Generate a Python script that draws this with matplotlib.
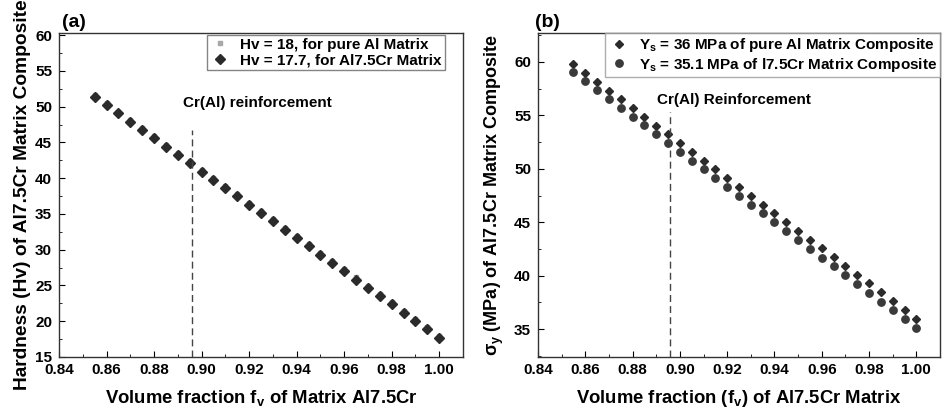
import matplotlib
matplotlib.use("Agg")
import matplotlib.pyplot as plt
from matplotlib.ticker import MultipleLocator, FormatStrFormatter

plt.rcParams['font.family'] = ['Liberation Sans', 'DejaVu Sans']
plt.rcParams['font.weight'] = 'bold'
plt.rcParams['axes.labelweight'] = 'bold'
plt.rcParams['mathtext.fontset'] = 'custom'
plt.rcParams['mathtext.rm'] = 'Liberation Sans:bold'
plt.rcParams['mathtext.it'] = 'Liberation Sans:bold'
plt.rcParams['mathtext.bf'] = 'Liberation Sans:bold'
plt.rcParams['mathtext.default'] = 'rm'

# volume fraction of matrix
fv = [0.855, 0.860, 0.865, 0.870, 0.875, 0.880, 0.885, 0.890, 0.895, 0.900,
      0.905, 0.910, 0.915, 0.920, 0.925, 0.930, 0.935, 0.940, 0.945, 0.950,
      0.955, 0.960, 0.965, 0.970, 0.975, 0.980, 0.985, 0.990, 0.995, 1.000]

# (a) hardness
hv_pure_al = [51.64, 50.48, 49.32, 48.16, 47.00, 45.84, 44.68, 43.52, 42.36, 41.20,
              40.04, 38.88, 37.72, 36.56, 35.40, 34.24, 33.08, 31.92, 30.76, 29.60,
              28.44, 27.28, 26.12, 24.96, 23.80, 22.64, 21.48, 20.32, 19.16, 18.00]
hv_al75cr = [51.38, 50.22, 49.06, 47.90, 46.74, 45.58, 44.41, 43.25, 42.09, 40.93,
             39.77, 38.61, 37.45, 36.28, 35.12, 33.96, 32.80, 31.64, 30.48, 29.31,
             28.15, 26.99, 25.83, 24.67, 23.51, 22.35, 21.18, 20.02, 18.86, 17.70]

# (b) yield strength
ys_pure_al = [59.78, 58.96, 58.14, 57.32, 56.50, 55.68, 54.86, 54.04, 53.22, 52.40,
              51.58, 50.76, 49.94, 49.12, 48.30, 47.48, 46.66, 45.84, 45.02, 44.20,
              43.38, 42.56, 41.74, 40.92, 40.10, 39.28, 38.46, 37.64, 36.82, 36.00]
ys_al75cr = [59.01, 58.19, 57.36, 56.54, 55.71, 54.89, 54.06, 53.24, 52.41, 51.59,
             50.77, 49.94, 49.12, 48.29, 47.47, 46.64, 45.82, 44.99, 44.17, 43.34,
             42.52, 41.70, 40.87, 40.05, 39.22, 38.40, 37.57, 36.75, 35.92, 35.10]

reinf_x = 0.896

fig = plt.figure(figsize=(9.43, 4.11), dpi=100)
axa = fig.add_axes([0.0626, 0.1314, 0.4284, 0.7883])
axb = fig.add_axes([0.5705, 0.1314, 0.4263, 0.7883])

dark = '#2b2b2b'

# panel (a)
axa.plot(fv, hv_pure_al, 's', color='#a8a8a8', ms=3, ls='none',
         label='Hv = 18, for pure Al Matrix')
axa.plot(fv, hv_al75cr, 'D', color=dark, ms=5, ls='none',
         label='Hv = 17.7, for Al7.5Cr Matrix')
axa.plot([reinf_x, reinf_x], [15, 46.7], ls=(0, (5, 3)), color='#444444', lw=1)
axa.text(0.892, 50.5, 'Cr(Al) reinforcement', fontsize=11, va='center')
axa.set_xlim(0.84, 1.01)
axa.set_ylim(15, 60.3)
axa.yaxis.set_major_locator(MultipleLocator(5))
axa.yaxis.set_minor_locator(MultipleLocator(2.5))
axa.set_xlabel('Volume fraction f$_v$ of Matrix Al7.5Cr', fontsize=13.3, labelpad=8)
axa.set_ylabel('Hardness (Hv) of Al7.5Cr Matrix Composite', fontsize=13.8, labelpad=3)
axa.legend(loc='upper right', bbox_to_anchor=(0.955, 0.995), fontsize=11,
           frameon=True, fancybox=False, edgecolor='#666666',
           handletextpad=0.6, borderpad=0.2, labelspacing=0.1,
           borderaxespad=0.0, handlelength=1.4)
fig.text(0.066, 0.935, '(a)', fontsize=14)

# panel (b)
axb.plot(fv, ys_pure_al, 'D', color=dark, ms=4.5, ls='none',
         label='Y$_s$ = 36 MPa of pure Al Matrix Composite')
axb.plot(fv, ys_al75cr, 'o', color='#3a3a3a', ms=5.3, ls='none',
         label='Y$_s$ = 35.1 MPa of l7.5Cr Matrix Composite')
axb.plot([reinf_x, reinf_x], [32.4, 55.3], ls=(0, (5, 3)), color='#444444', lw=1)
axb.text(0.8902, 56.4, 'Cr(Al) Reinforcement', fontsize=11, va='center')
axb.set_xlim(0.84, 1.01)
axb.set_ylim(32.4, 62.7)
axb.yaxis.set_major_locator(MultipleLocator(5))
axb.yaxis.set_minor_locator(MultipleLocator(2.5))
axb.set_xlabel('Volume fraction (f$_v$) of Al7.5Cr Matrix', fontsize=13.3, labelpad=8)
axb.set_ylabel(r'$\sigma_y$ (MPa) of Al7.5Cr Matrix Composite', fontsize=13, labelpad=6)
axb.legend(loc='upper right', fontsize=11, frameon=True, fancybox=False,
           edgecolor='#999999', handletextpad=0.6, borderpad=0.2,
           labelspacing=0.1, borderaxespad=0.0, handlelength=1.4)
fig.text(0.567, 0.935, '(b)', fontsize=14)

for ax in (axa, axb):
    ax.xaxis.set_major_locator(MultipleLocator(0.02))
    ax.xaxis.set_minor_locator(MultipleLocator(0.01))
    ax.xaxis.set_major_formatter(FormatStrFormatter('%.2f'))
    ax.tick_params(which='both', direction='in', labelsize=11)
    ax.tick_params(axis='x', pad=4)
    ax.tick_params(axis='y', pad=5)
    ax.tick_params(which='major', length=4)
    ax.tick_params(which='minor', length=2)
    for lbl in ax.get_xticklabels() + ax.get_yticklabels():
        lbl.set_fontweight('bold')
    for s in ax.spines.values():
        s.set_linewidth(1.0)
        s.set_color('#333333')

fig.savefig('out.png', dpi=100)
